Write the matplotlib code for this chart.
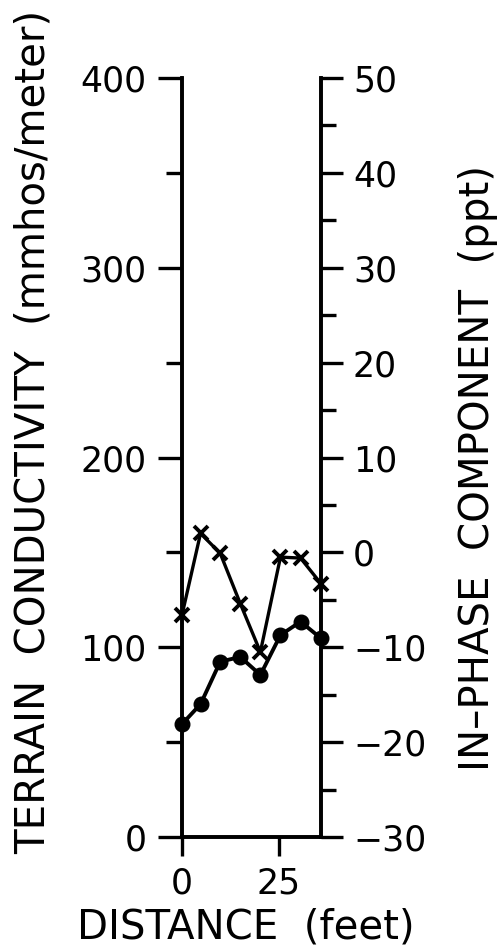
import matplotlib
matplotlib.use("Agg")
import matplotlib.pyplot as plt
from matplotlib.ticker import MultipleLocator

# Survey line readings
distance_ft = [0, 4.8, 9.9, 15.1, 20.3, 25.5, 30.7, 36.0]
conductivity = [59.5, 70, 92.4, 94.9, 85.4, 106.4, 113.5, 104.7]
in_phase = [-6.6, 2.0, -0.1, -5.4, -10.5, -0.5, -0.6, -3.3]

x_ticks = [0, 25]
left_ticks = [0, 100, 200, 300, 400]
right_ticks = [-30, -20, -10, 0, 10, 20, 30, 40, 50]

plt.rcParams["font.family"] = ["DejaVu Sans"]
plt.rcParams["axes.unicode_minus"] = True

W, H = 503, 950
fig = plt.figure(figsize=(W / 100, H / 100), dpi=100)
ax = fig.add_axes([182 / W, 1 - 837 / H, (321 - 182) / W, (837 - 78) / H])
ax2 = ax.twinx()

ax.plot(distance_ft, conductivity, color="black", lw=2.8, marker="o",
        markersize=10.5, zorder=3, clip_on=False)
ax2.plot(distance_ft, in_phase, color="black", lw=2.4, marker="x",
         markersize=9.5, markeredgewidth=2.8, zorder=3, clip_on=False)

ax.set_xlim(0, 36)
ax.set_ylim(0, 400)
ax2.set_ylim(-30, 50)

for a in (ax, ax2):
    a.spines["top"].set_visible(False)
    for s in ("left", "right", "bottom"):
        a.spines[s].set_linewidth(2.6)
    a.patch.set_visible(False)

ax.set_xticks(x_ticks)
ax.set_yticks(left_ticks)
ax.yaxis.set_minor_locator(MultipleLocator(50))
ax2.set_yticks(right_ticks)
ax2.yaxis.set_minor_locator(MultipleLocator(5))

ax.tick_params(axis="x", direction="out", length=14, width=2.4, pad=7,
               labelsize=25)
ax.tick_params(axis="y", which="major", direction="out", length=17.5,
               width=2.4, pad=8, labelsize=25)
ax.tick_params(axis="y", which="minor", direction="out", length=11.5,
               width=2.4)
ax2.tick_params(axis="y", which="major", direction="out", length=16,
                width=2.4, pad=7, labelsize=25)
ax2.tick_params(axis="y", which="minor", direction="out", length=11,
                width=2.4)

fig.text(34 / W, 1 - 432 / H, "TERRAIN  CONDUCTIVITY  (mmhos/meter)",
         rotation=90, ha="center", va="center", fontsize=29)
fig.text(478 / W, 1 - 468 / H, "IN\u2013PHASE  COMPONENT  (ppt)",
         rotation=90, ha="center", va="center", fontsize=29)
fig.text(246 / W, 1 - 927 / H, "DISTANCE  (feet)",
         ha="center", va="center", fontsize=29)

fig.savefig("out.png", dpi=100, facecolor="white")
